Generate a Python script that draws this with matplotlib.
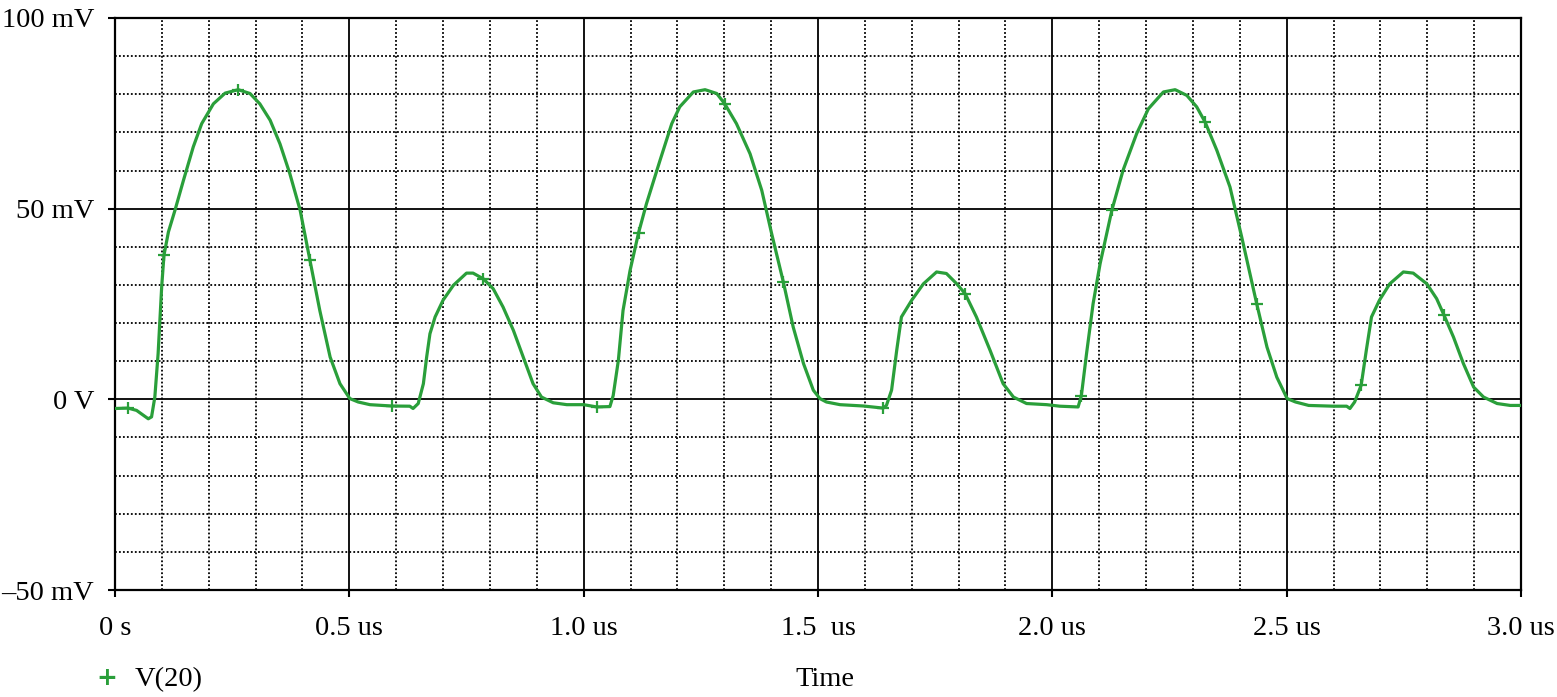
import matplotlib
matplotlib.use("Agg")
import matplotlib.pyplot as plt
from matplotlib.ticker import MultipleLocator

plt.rcParams['font.family'] = ['Liberation Serif', 'DejaVu Serif']

# time in us, voltage in mV
time_us = [0.000, 0.028, 0.046, 0.071, 0.078, 0.085, 0.092, 0.0996, 0.1045, 0.114,
           0.128, 0.146, 0.167, 0.185, 0.210, 0.235, 0.263, 0.288, 0.309, 0.331,
           0.352, 0.373, 0.395, 0.416, 0.437, 0.459, 0.480, 0.501, 0.519, 0.544,
           0.590, 0.629, 0.636, 0.647, 0.658, 0.665, 0.672, 0.683, 0.700, 0.722,
           0.750, 0.764, 0.786, 0.807, 0.828, 0.850, 0.871, 0.892, 0.910, 0.935,
           0.964, 1.000, 1.028, 1.056, 1.063, 1.074, 1.084, 1.099, 1.117, 1.134,
           1.163, 1.188, 1.205, 1.234, 1.259, 1.284, 1.301, 1.326, 1.355, 1.380,
           1.401, 1.426, 1.447, 1.469, 1.490, 1.504, 1.518, 1.547, 1.597, 1.639,
           1.646, 1.657, 1.668, 1.678, 1.700, 1.725, 1.753, 1.774, 1.796, 1.814,
           1.838, 1.867, 1.895, 1.917, 1.945, 1.988, 2.016, 2.055, 2.062, 2.073,
           2.087, 2.102, 2.127, 2.151, 2.180, 2.205, 2.237, 2.262, 2.287, 2.308,
           2.326, 2.351, 2.379, 2.404, 2.436, 2.458, 2.479, 2.501, 2.519, 2.547,
           2.600, 2.628, 2.635, 2.645, 2.659, 2.670, 2.681, 2.698, 2.720, 2.749,
           2.770, 2.799, 2.820, 2.836, 2.856, 2.877, 2.899, 2.920, 2.949, 2.977,
           3.000]
v20_mv = [-2.4, -2.3, -2.9, -5.1, -4.6, 0.6, 12.0, 29.5, 37.8, 43.9,
          49.6, 57.4, 66.2, 72.3, 77.5, 80.3, 81.2, 80.2, 77.5, 73.2,
          67.0, 59.2, 49.6, 36.5, 23.3, 11.1, 4.1, 0.2, -0.7, -1.4,
          -1.75, -1.8, -2.4, -1.1, 4.1, 11.1, 17.2, 21.6, 26.0, 29.9,
          33.1, 33.1, 31.6, 29.0, 24.2, 18.1, 11.1, 4.1, 0.6, -0.9,
          -1.4, -1.4, -2.0, -1.9, 1.0, 10.2, 23.3, 33.8, 43.6, 51.3,
          62.7, 72.3, 76.7, 80.6, 81.2, 80.2, 77.5, 72.3, 64.4, 54.8,
          43.5, 30.8, 19.0, 9.4, 2.4, 0.2, -0.7, -1.4, -1.75, -2.3,
          -1.6, 2.4, 12.9, 21.6, 26.0, 30.3, 33.4, 33.0, 30.3, 27.7,
          21.6, 12.9, 4.1, 0.6, -1.1, -1.4, -1.8, -2.0, 1.0, 12.0,
          25.1, 35.6, 49.6, 60.1, 69.7, 76.2, 80.6, 81.2, 79.7, 76.7,
          72.7, 65.3, 55.7, 42.6, 25.1, 13.7, 5.8, 0.2, -0.7, -1.6,
          -1.8, -1.8, -2.4, -0.7, 3.7, 12.9, 21.6, 26.0, 30.3, 33.4,
          33.1, 30.3, 26.4, 22.0, 16.3, 9.4, 3.2, 0.6, -1.1, -1.6,
          -1.6]

# "+" symbols placed along the trace
marker_t = [0.028, 0.1045, 0.263, 0.416, 0.590, 0.786, 1.028, 1.117, 1.301,
            1.426, 1.639, 1.814, 2.062, 2.127, 2.326, 2.436, 2.659, 2.836]
marker_v = [-2.3, 37.8, 81.2, 36.5, -1.75, 31.6, -2.0, 43.6, 77.5,
            30.8, -2.3, 27.7, 1.0, 49.6, 72.7, 25.1, 3.7, 22.0]

x_ticks = [0.0, 0.5, 1.0, 1.5, 2.0, 2.5, 3.0]
x_labels = ['0 s', '0.5 us', '1.0 us', '1.5  us', '2.0 us', '2.5 us', '3.0 us']
y_ticks = [-50, 0, 50, 100]
y_labels = ['\u201350 mV', '0 V', '50 mV', '100 mV']

green = '#2a9f3a'

fig = plt.figure(figsize=(15.57, 6.97), dpi=100)
ax = fig.add_axes([115 / 1557, 1 - 590 / 697, (1521 - 115) / 1557, (590 - 18) / 697])

ax.plot(time_us, v20_mv, color=green, lw=2.3, zorder=3, solid_joinstyle='round')
ax.plot(marker_t, marker_v, ls='none', marker='+', ms=8, mew=1.6, color=green, zorder=4)

ax.set_xlim(0, 3.0)
ax.set_ylim(-50, 100)
ax.set_xticks(x_ticks)
ax.set_xticklabels(x_labels)
ax.set_yticks(y_ticks)
ax.set_yticklabels(y_labels)
ax.xaxis.set_minor_locator(MultipleLocator(0.1))
ax.yaxis.set_minor_locator(MultipleLocator(10))

ax.grid(which='major', color='black', lw=1.3, ls='-', zorder=1)
ax.grid(which='minor', color='black', lw=1.3, ls=(0, (1, 1.2)), zorder=1)
ax.set_axisbelow(True)

ax.tick_params(which='major', direction='out', length=5, width=1.5, labelsize=20.5, pad=10, colors='black')
ax.tick_params(axis='x', pad=14)
ax.tick_params(which='minor', length=0)
for s in ax.spines.values():
    s.set_linewidth(1.6)
    s.set_color('black')

# legend entry and axis title under the plot
fig.text(107 / 1557, 1 - 678 / 697, '+', color=green, fontsize=18, fontweight='bold',
         ha='center', va='center', family='DejaVu Sans')
fig.text(135 / 1557, 1 - 680 / 697, 'V(20)', fontsize=20.5, ha='left', va='center')
fig.text(825 / 1557, 1 - 680 / 697, 'Time', fontsize=20.5, ha='center', va='center')

fig.savefig('out.png', dpi=100)
